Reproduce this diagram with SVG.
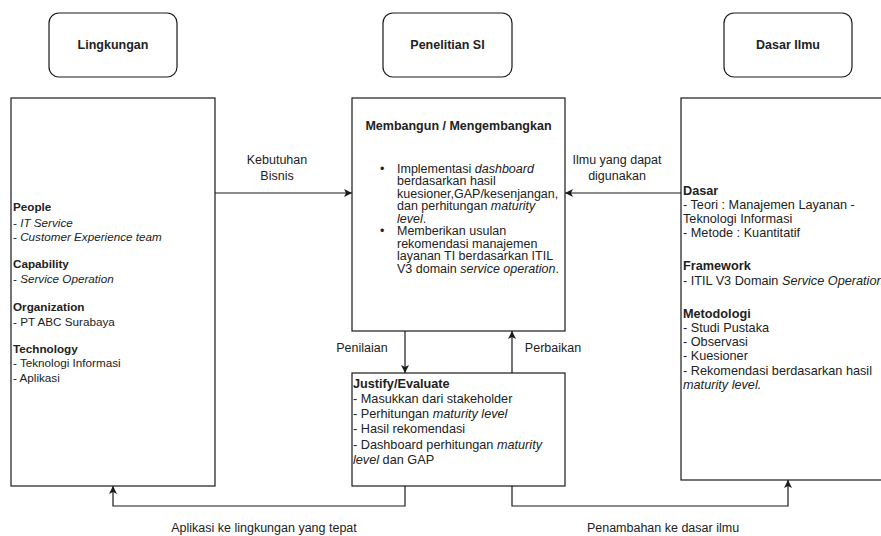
<svg xmlns="http://www.w3.org/2000/svg" width="881" height="536" viewBox="0 0 881 536">
<defs>
<style>
.box{fill:#fff;stroke:#1a1a1a;stroke-width:1.2}
.t{font-family:"Liberation Sans",Arial,sans-serif;fill:#222;font-size:12.5px}
.b{font-weight:bold}
.i{font-style:italic}
.c{text-anchor:middle}
.l{font-size:11.7px}
.j{font-size:12.7px}
.con{fill:none;stroke:#1a1a1a;stroke-width:1.2}
</style>
<marker id="arr" markerUnits="userSpaceOnUse" markerWidth="10" markerHeight="10" refX="8" refY="4" orient="auto">
<path d="M0,0 L8,4 L0,8 L2,4 Z" fill="#1a1a1a"/>
</marker>
</defs>
<rect width="881" height="536" fill="#fff"/>

<g id="lingkungan-header">
<rect class="box" x="49" y="13" width="128" height="64" rx="10"/>
<text class="t b c" x="113" y="49">Lingkungan</text>
</g>
<g id="penelitian-header">
<rect class="box" x="383" y="13" width="129" height="64" rx="10"/>
<text class="t b c" x="447.5" y="49">Penelitian SI</text>
</g>
<g id="dasar-header">
<rect class="box" x="724" y="13" width="128" height="64" rx="10"/>
<text class="t b c" x="788" y="49">Dasar Ilmu</text>
</g>

<g id="lingkungan">
<rect class="box" x="11" y="98" width="204" height="388"/>
<text class="t l" x="13">
<tspan class="b" x="13" y="211">People</tspan>
<tspan x="13" y="226.5">- <tspan class="i">IT Service</tspan></tspan>
<tspan x="13" y="241">- <tspan class="i">Customer Experience team</tspan></tspan>
<tspan class="b" x="13" y="268">Capability</tspan>
<tspan x="13" y="282.5">- <tspan class="i">Service Operation</tspan></tspan>
<tspan class="b" x="13" y="311">Organization</tspan>
<tspan x="13" y="325.5">- PT ABC Surabaya</tspan>
<tspan class="b" x="13" y="352.5">Technology</tspan>
<tspan x="13" y="367">- Teknologi Informasi</tspan>
<tspan x="13" y="381.5">- Aplikasi</tspan>
</text>
</g>

<g id="membangun">
<rect class="box" x="352" y="98" width="213" height="233"/>
<text class="t b c" x="458.5" y="129.5">Membangun / Mengembangkan</text>
<text class="t" x="380" y="172.5">•</text>
<text class="t" x="380" y="235">•</text>
<text class="t">
<tspan x="397" y="172.5">Implementasi <tspan class="i">dashboard</tspan></tspan>
<tspan x="397" y="185">berdasarkan hasil</tspan>
<tspan x="397" y="197.5">kuesioner,GAP/kesenjangan,</tspan>
<tspan x="397" y="210">dan perhitungan <tspan class="i">maturity</tspan></tspan>
<tspan x="397" y="222.5" class="i">level</tspan><tspan>.</tspan>
<tspan x="397" y="235">Memberikan usulan</tspan>
<tspan x="397" y="247.5">rekomendasi manajemen</tspan>
<tspan x="397" y="260">layanan TI berdasarkan ITIL</tspan>
<tspan x="397" y="272.5">V3 domain <tspan class="i">service operation</tspan>.</tspan>
</text>
</g>

<g id="dasar-ilmu">
<rect class="box" x="681" y="98" width="220" height="382"/>
<text class="t j">
<tspan class="b" x="683" y="194.5">Dasar</tspan>
<tspan x="683" y="208.8">- Teori : Manajemen Layanan -</tspan>
<tspan x="683" y="223.1">Teknologi Informasi</tspan>
<tspan x="683" y="237.4">- Metode : Kuantitatif</tspan>
<tspan class="b" x="683" y="270.4">Framework</tspan>
<tspan x="683" y="284.7">- ITIL V3 Domain <tspan class="i">Service Operation</tspan></tspan>
<tspan class="b" x="683" y="317.5">Metodologi</tspan>
<tspan x="683" y="331.8">- Studi Pustaka</tspan>
<tspan x="683" y="346.1">- Observasi</tspan>
<tspan x="683" y="360.4">- Kuesioner</tspan>
<tspan x="683" y="374.7">- Rekomendasi berdasarkan hasil</tspan>
<tspan x="683" y="389" class="i">maturity level.</tspan>
</text>
</g>

<g id="justify">
<rect class="box" x="352" y="373" width="213" height="113"/>
<text class="t j">
<tspan class="b" x="353" y="387.5">Justify/Evaluate</tspan>
<tspan x="353" y="403">- Masukkan dari stakeholder</tspan>
<tspan x="353" y="418">- Perhitungan <tspan class="i">maturity level</tspan></tspan>
<tspan x="353" y="433">- Hasil rekomendasi</tspan>
<tspan x="353" y="448.5">- Dashboard perhitungan <tspan class="i">maturity</tspan></tspan>
<tspan x="353" y="463.5"><tspan class="i">level</tspan> dan GAP</tspan>
</text>
</g>

<g id="connectors">
<path class="con" d="M215 193 H352" marker-end="url(#arr)"/>
<path class="con" d="M681 193 H565" marker-end="url(#arr)"/>
<path class="con" d="M405 331 V373" marker-end="url(#arr)"/>
<path class="con" d="M512 373 V331" marker-end="url(#arr)"/>
<path class="con" d="M405 486 V506 H113 V486" marker-end="url(#arr)"/>
<path class="con" d="M512 486 V506 H788 V480" marker-end="url(#arr)"/>
<text class="t c"><tspan x="277" y="164">Kebutuhan</tspan><tspan x="277" y="180">Bisnis</tspan></text>
<text class="t c"><tspan x="617" y="164">Ilmu yang dapat</tspan><tspan x="617" y="180">digunakan</tspan></text>
<text class="t c" x="362" y="351.5">Penilaian</text>
<text class="t c" x="553" y="351.5">Perbaikan</text>
<text class="t c" x="264" y="531.5">Aplikasi ke lingkungan yang tepat</text>
<text class="t c" x="663" y="532">Penambahan ke dasar ilmu</text>
</g>
</svg>
